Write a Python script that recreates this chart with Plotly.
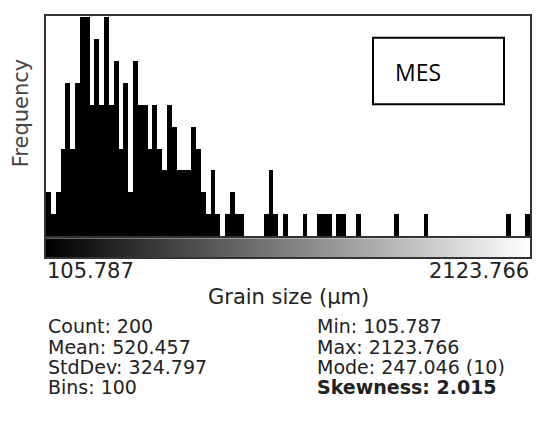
import numpy as np
import plotly.graph_objects as go

# ---- data ----
counts = [2, 1, 2, 4, 7, 4, 7, 10, 10, 6,
          9, 6, 10, 6, 8, 4, 7, 2, 8, 6,
          6, 4, 6, 4, 3, 6, 5, 3, 3, 3,
          5, 4, 2, 1, 3, 1, 0, 1, 2, 1,
          1, 0, 0, 0, 0, 1, 3, 1, 0, 1,
          0, 0, 0, 1, 0, 0, 1, 1, 1, 0,
          1, 1, 0, 0, 1, 0, 0, 0, 0, 0,
          0, 0, 1, 0, 0, 0, 0, 0, 1, 0,
          0, 0, 0, 0, 0, 0, 0, 0, 0, 0,
          0, 0, 0, 0, 0, 1, 0, 0, 0, 1]
range_min = 105.787
range_max = 2123.766
n_bins = 100
tick_labels = ["105.787", "2123.766"]
x_title = "Grain size (µm)"
y_title = "Frequency"
stats_left = ["Count: 200", "Mean: 520.457", "StdDev: 324.797", "Bins: 100"]
stats_right = ["Min: 105.787", "Max: 2123.766", "Mode: 247.046 (10)", "<b>Skewness: 2.015</b>"]
box_label = "MES"

# ---- layout helpers (page body has an 8px default margin) ----
OFF = 8
W, H = 560 - OFF, 424 - OFF
ML, MR, MT = 46 - OFF, 30, 14 - OFF
MB = H - (258 - OFF)
PH = H - MT - MB
PW = W - ML - MR


def py(y_px):
    return (H - MB - (y_px - OFF)) / PH


def px(x_px):
    return (x_px - OFF - ML) / PW


bw = (range_max - range_min) / n_bins
centers = range_min + bw * (np.arange(n_bins) + 0.5)

fig = go.Figure()
fig.add_trace(go.Bar(x=centers, y=counts, width=bw, marker=dict(color="black", line=dict(width=0)),
                     xaxis="x", yaxis="y", showlegend=False, hoverinfo="skip"))

grad = np.linspace(0, 1, 256)
gx = np.linspace(range_min, range_max, 256)
fig.add_trace(go.Heatmap(z=[grad], x=gx, y=[0], colorscale=[[0, "black"], [1, "white"]],
                         showscale=False, xaxis="x2", yaxis="y2", hoverinfo="skip"))

frame = dict(showline=True, linecolor="#333", linewidth=1.5, mirror=True,
             showgrid=False, zeroline=False, showticklabels=False, ticks="")

fig.update_layout(
    width=W, height=H,
    margin=dict(l=ML, r=MR, t=MT, b=MB),
    paper_bgcolor="white", plot_bgcolor="white",
    bargap=0,
    xaxis=dict(range=[range_min, range_max], domain=[0, 1], anchor="y", **frame),
    yaxis=dict(range=[0, 10.05], domain=[py(236), 1], anchor="x", **frame),
    xaxis2=dict(range=[range_min, range_max], domain=[0, 1], anchor="y2", **frame),
    yaxis2=dict(range=[-0.5, 0.5], domain=[py(257), py(238)], anchor="x2", **frame),
    font=dict(family="DejaVu Sans", color="#222"),
)

ann = []
ann.append(dict(text=tick_labels[0], x=px(45), y=py(271), xanchor="left", yanchor="middle",
                font=dict(size=21)))
ann.append(dict(text=tick_labels[1], x=px(531), y=py(271), xanchor="right", yanchor="middle",
                font=dict(size=21)))
ann.append(dict(text=x_title, x=px(288), y=py(297), xanchor="center", yanchor="middle",
                font=dict(size=21)))
ann.append(dict(text=y_title, x=px(21), y=py(112), xanchor="center", yanchor="middle",
                textangle=-90, font=dict(size=21, color="#444")))
row_y = [326, 347, 367, 388]
for t, yv in zip(stats_left, row_y):
    ann.append(dict(text=t, x=px(46), y=py(yv), xanchor="left", yanchor="middle",
                    height=19, valign="middle", font=dict(size=19)))
for t, yv in zip(stats_right, row_y):
    ann.append(dict(text=t, x=px(315), y=py(yv), xanchor="left", yanchor="middle",
                    height=19, valign="middle", font=dict(size=19)))
ann.append(dict(text=box_label, x=px(393), y=py(70), xanchor="left", yanchor="middle",
                font=dict(size=23, family="Open Sans", color="black")))
for a in ann:
    a.update(xref="paper", yref="paper", showarrow=False)
fig.update_layout(annotations=ann)

fig.add_shape(type="rect", xref="paper", yref="paper",
              x0=px(373), x1=px(504), y0=py(103), y1=py(36),
              line=dict(color="black", width=2), fillcolor="white", layer="above")

fig.write_html("out.html")
